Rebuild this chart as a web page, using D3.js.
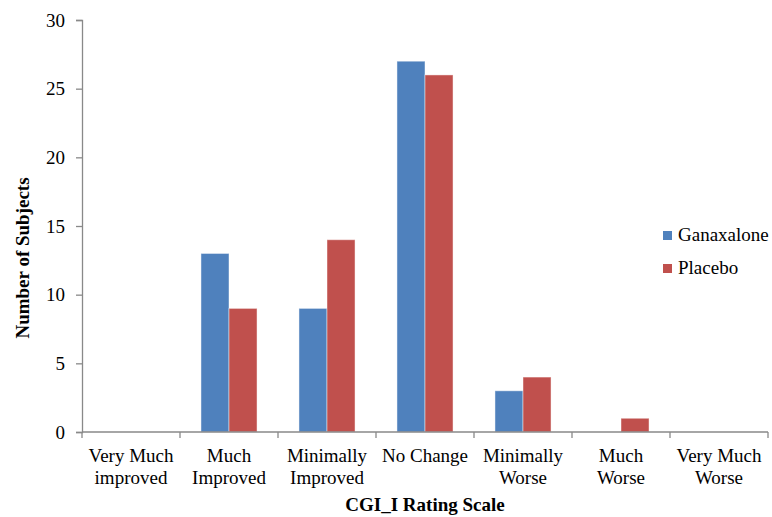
<!DOCTYPE html>
<html>
<head>
<meta charset="utf-8">
<script src="https://cdn.jsdelivr.net/npm/d3@7"></script>
<style>
  body { margin: 0; background: #fff; }
  text { font-family: "Liberation Serif", "Times New Roman", serif; fill: #000; }
</style>
</head>
<body>
<script>
var categories = [["Very Much", "improved"], ["Much", "Improved"], ["Minimally", "Improved"], ["No Change"], ["Minimally", "Worse"], ["Much", "Worse"], ["Very Much", "Worse"]];
var seriesNames = ["Ganaxalone", "Placebo"];
var ganaxalone = [0, 13, 9, 27, 3, 0, 0];
var placebo = [0, 9, 14, 26, 4, 1, 0];
var yTicks = [0, 5, 10, 15, 20, 25, 30];
var colors = ["#4F81BD", "#C0504D"];

var canvasWidth = 772, canvasHeight = 517;
var plotLeft = 82, plotRight = 768, plotTop = 20, plotBottom = 432;
var axisColor = "#898989";
var fontSize = "19px";

var svg = d3.select("body").append("svg")
    .attr("width", canvasWidth)
    .attr("height", canvasHeight);

var catIdx = categories.map((d, i) => i);
var xScale = d3.scaleBand().domain(catIdx).range([plotLeft, plotRight]).padding(0);
var bw = xScale.bandwidth();
var x1 = d3.scaleBand().domain(seriesNames).range([bw * 0.214, bw * 0.786]).padding(0);
var yScale = d3.scaleLinear().domain([0, 30]).range([plotBottom, plotTop]);

var values = [ganaxalone, placebo];

// bars
seriesNames.forEach(function(s, si) {
    svg.append("g").selectAll("rect").data(values[si])
        .enter().append("rect")
        .attr("x", (d, i) => xScale(i) + x1(s))
        .attr("y", d => yScale(d))
        .attr("width", x1.bandwidth())
        .attr("height", d => plotBottom - yScale(d))
        .attr("fill", colors[si])
        .attr("stroke", d => d > 0 ? "rgba(255,255,255,0.45)" : "none")
        .attr("stroke-width", 1);
});

// y axis
var yAxis = svg.append("g")
    .attr("transform", "translate(" + plotLeft + ",0)")
    .call(d3.axisLeft(yScale).tickValues(yTicks).tickSize(6).tickPadding(11));
yAxis.select(".domain").attr("stroke", axisColor).attr("stroke-width", 1.3);
yAxis.selectAll(".tick line").attr("stroke", axisColor).attr("stroke-width", 1.3);
yAxis.selectAll(".tick text")
    .attr("font-family", "Liberation Serif, serif")
    .attr("font-size", fontSize)
    .attr("fill", "#000");

// x axis line and ticks
var xg = svg.append("g");
xg.append("line")
    .attr("x1", plotLeft).attr("x2", plotRight)
    .attr("y1", plotBottom).attr("y2", plotBottom)
    .attr("stroke", axisColor).attr("stroke-width", 1.3);
xg.selectAll(".xt").data(catIdx.concat([categories.length]))
    .enter().append("line")
    .attr("x1", i => plotLeft + i * bw).attr("x2", i => plotLeft + i * bw)
    .attr("y1", plotBottom).attr("y2", plotBottom + 6)
    .attr("stroke", axisColor).attr("stroke-width", 1.3);

// category labels
xg.selectAll(".xl").data(categories)
    .enter().append("text")
    .attr("text-anchor", "middle")
    .attr("font-size", fontSize)
    .each(function(d, i) {
        var t = d3.select(this);
        d.forEach(function(line, li) {
            t.append("tspan")
                .attr("x", xScale(i) + bw / 2)
                .attr("y", 462 + li * 22)
                .text(line);
        });
    });

// axis titles
svg.append("text")
    .attr("x", (plotLeft + plotRight) / 2)
    .attr("y", 511)
    .attr("text-anchor", "middle")
    .attr("font-size", fontSize)
    .attr("font-weight", "bold")
    .text("CGI_I Rating Scale");

svg.append("text")
    .attr("transform", "translate(29,258) rotate(-90)")
    .attr("text-anchor", "middle")
    .attr("font-size", fontSize)
    .attr("font-weight", "bold")
    .text("Number of Subjects");

// legend
seriesNames.forEach(function(s, i) {
    svg.append("rect")
        .attr("x", 663)
        .attr("y", 231 + i * 33)
        .attr("width", 9)
        .attr("height", 9)
        .attr("fill", colors[i]);
    svg.append("text")
        .attr("x", 678)
        .attr("y", 241 + i * 33)
        .attr("font-size", fontSize)
        .text(s);
});
</script>
</body>
</html>
